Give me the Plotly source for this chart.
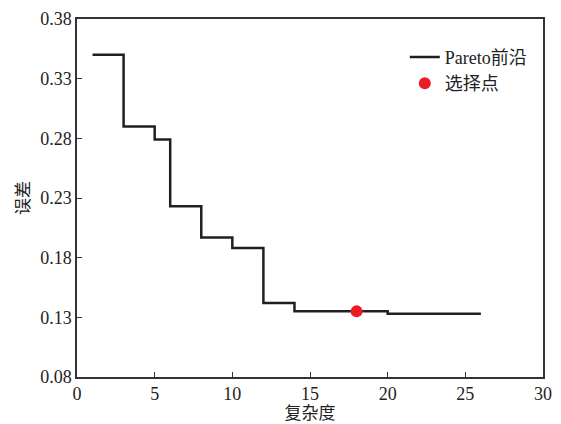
import plotly.graph_objects as go

complexity = [1, 3, 5, 6, 8, 10, 12, 14, 20, 26]
error = [0.350, 0.290, 0.279, 0.223, 0.197, 0.188, 0.142, 0.135, 0.133, 0.133]
sel_x = [18]
sel_y = [0.135]
x_ticks = [0, 5, 10, 15, 20, 25, 30]
y_ticks = [0.08, 0.13, 0.18, 0.23, 0.28, 0.33, 0.38]

font_fam = "Liberation Serif, Noto Sans CJK SC, serif"

fig = go.Figure()
fig.add_trace(go.Scatter(x=complexity, y=error, mode="lines", line_shape="hv",
                         line=dict(color="#231f20", width=2.5), name="Pareto前沿"))
fig.add_trace(go.Scatter(x=sel_x, y=sel_y, mode="markers",
                         marker=dict(color="#ed1c24", size=12), name="选择点"))

axis_common = dict(showline=True, linecolor="#333333", linewidth=1.5, mirror=True,
                   ticks="inside", ticklen=5, tickcolor="#333333", tickwidth=1.2,
                   showgrid=False, zeroline=False, automargin=False,
                   tickfont=dict(family=font_fam, size=18, color="#222222"))

# page body has an 8px margin, so the figure is sized/offset to compensate
fig.update_layout(
    width=553, height=416,
    margin=dict(l=69, r=18, t=11, b=47),
    plot_bgcolor="white", paper_bgcolor="white",
    font=dict(family=font_fam, color="#222222"),
    xaxis=dict(range=[0, 30], tickvals=x_ticks, ticktext=[str(v) for v in x_ticks],
               title=dict(text="复杂度", font=dict(size=17, family=font_fam), standoff=2),
               **axis_common),
    yaxis=dict(range=[0.08, 0.38], tickvals=y_ticks, ticktext=[f"{v:.2f}" for v in y_ticks],
               title=dict(text="误差", font=dict(size=17, family=font_fam), standoff=6),
               **axis_common),
    legend=dict(x=0.976, y=0.945, xanchor="right", yanchor="top",
                bgcolor="rgba(0,0,0,0)", font=dict(size=18, family=font_fam),
                itemwidth=30, tracegroupgap=2),
    showlegend=True,
)

fig.write_html("out.html")
